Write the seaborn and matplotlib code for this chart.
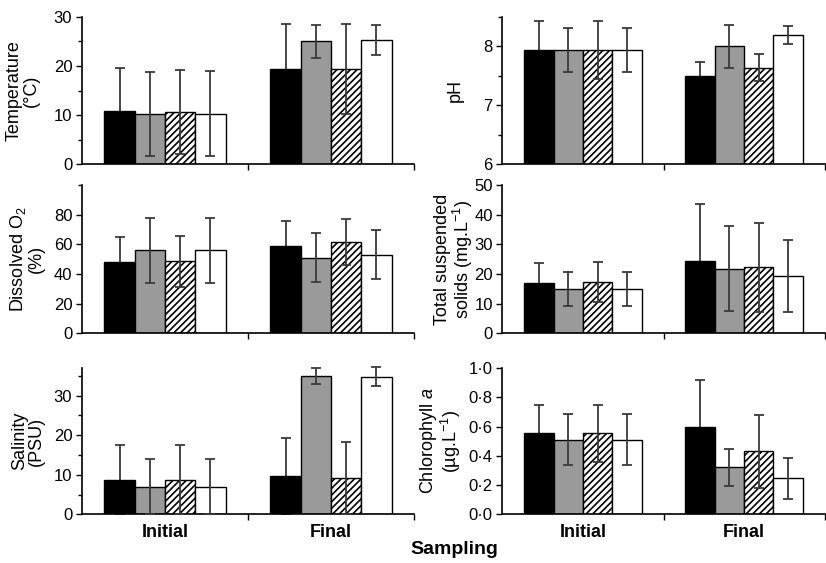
import numpy as np
import pandas as pd
import matplotlib
matplotlib.use("Agg")
import matplotlib.pyplot as plt
from matplotlib.ticker import FixedLocator, FuncFormatter
from matplotlib.container import BarContainer
import seaborn as sns

# ---------------- data (Initial: 4 treatments, then Final: 4 treatments) ----------------
sampling = ["Initial", "Final"]
treatments = ["T1", "T2", "T3", "T4"]

temperature_mean = [10.8, 10.2, 10.6, 10.3, 19.4, 25.0, 19.4, 25.3]
temperature_err = [8.7, 8.6, 8.6, 8.6, 9.1, 3.3, 9.1, 3.1]

ph_mean = [7.94, 7.94, 7.94, 7.94, 7.49, 8.00, 7.64, 8.19]
ph_err = [0.49, 0.38, 0.49, 0.38, 0.25, 0.37, 0.23, 0.15]

do_mean = [48.0, 56.0, 48.5, 56.0, 59.0, 51.0, 61.5, 53.0]
do_err = [17.0, 22.0, 17.0, 22.0, 17.0, 16.3, 15.5, 16.7]

tss_mean = [16.9, 15.0, 17.2, 15.0, 24.5, 21.8, 22.3, 19.3]
tss_err = [6.9, 5.8, 6.8, 5.8, 19.1, 14.4, 15.0, 12.0]

salinity_mean = [8.8, 7.0, 8.8, 7.0, 9.7, 35.0, 9.3, 34.8]
salinity_err = [8.6, 7.0, 8.6, 7.0, 9.7, 2.1, 9.1, 2.4]

chl_mean = [0.555, 0.51, 0.555, 0.51, 0.60, 0.32, 0.43, 0.245]
chl_err = [0.19, 0.175, 0.195, 0.175, 0.32, 0.125, 0.25, 0.14]

ylabels = {
    "temp": "Temperature\n(°C)",
    "ph": "pH",
    "do": "Dissolved O$_2$\n(%)",
    "tss": "Total suspended\nsolids (mg.L$^{-1}$)",
    "sal": "Salinity\n(PSU)",
    "chl": "Chlorophyll $a$\n(µg.L$^{-1}$)",
}

# ---------------- style ----------------
sns.set_style("ticks")
plt.rcParams["font.family"] = ["Liberation Sans", "DejaVu Sans"]
plt.rcParams["mathtext.fontset"] = "custom"
plt.rcParams["mathtext.rm"] = "Liberation Sans"
plt.rcParams["mathtext.it"] = "Liberation Sans:italic"
plt.rcParams["hatch.linewidth"] = 1.2
for key in ["text.color", "axes.labelcolor", "xtick.color", "ytick.color",
            "xtick.labelcolor", "ytick.labelcolor"]:
    plt.rcParams[key] = "black"

bar_colors = ["#000000", "#9a9a9a", "#ffffff", "#ffffff"]
hatches = ["", "", "/////", ""]
err_zorder = [1, 3, 3, 3]   # error bar of the black bar sits behind it
err_color = "#3a3a3a"

fig = plt.figure(figsize=(8.26, 5.63), dpi=100)
W, H = 826.0, 563.0
colL = (82 / W, 332 / W)
colR = (502.5 / W, 322 / W)
rows = [((H - 164) / H, 147 / H), ((H - 333.3) / H, 148.3 / H), ((H - 514.3) / H, 146.3 / H)]


def make_panel(col, row, means, errs, ylim, majors, minors, label, label_x,
               bottom=False, fmt=None):
    ax = fig.add_axes([col[0], row[0], col[1], row[1]])
    df = pd.DataFrame({
        "Sampling": np.repeat(sampling, len(treatments)),
        "Treatment": treatments * len(sampling),
        "value": means,
        "err": errs,
    })
    sns.barplot(data=df, x="Sampling", y="value", hue="Treatment",
                order=sampling, hue_order=treatments, palette=bar_colors,
                width=0.73, gap=0, errorbar=None, edgecolor="black",
                linewidth=1.0, legend=False, ax=ax, zorder=2)
    # hatches and error bars positioned from the drawn bars
    bar_containers = [c for c in ax.containers if isinstance(c, BarContainer)]
    for k, cont in enumerate(bar_containers):
        sub = df[df["Treatment"] == treatments[k]].set_index("Sampling").loc[sampling]
        xs, ys = [], []
        for bar in cont:
            bar.set_hatch(hatches[k])
            xs.append(bar.get_x() + bar.get_width() / 2)
            ys.append(bar.get_height())
        ax.errorbar(xs, ys, yerr=sub["err"].values, fmt="none", ecolor=err_color,
                    elinewidth=1.3, capsize=3.5, capthick=1.3,
                    zorder=err_zorder[k], clip_on=False)
    ax.set_xlim(-0.5, 1.5)
    ax.set_ylim(*ylim)
    ax.yaxis.set_major_locator(FixedLocator(majors))
    ax.yaxis.set_minor_locator(FixedLocator(minors))
    if fmt is not None:
        ax.yaxis.set_major_formatter(FuncFormatter(fmt))
    ax.tick_params(axis="y", which="major", direction="out", length=4, width=1.0,
                   labelsize=12, pad=3, color="black")
    ax.tick_params(axis="y", which="minor", direction="out", length=3, width=1.0,
                   color="black")
    ax.xaxis.set_minor_locator(FixedLocator([0.5, 1.5]))
    ax.tick_params(axis="x", which="minor", direction="out", length=4, width=1.0,
                   color="black")
    ax.tick_params(axis="x", which="major", length=0, pad=7)
    if bottom:
        ax.set_xticks([0, 1])
        ax.set_xticklabels(sampling, fontsize=13, fontweight="bold")
    else:
        ax.set_xticklabels([])
    ax.set_xlabel("")
    ax.set_ylabel(label, fontsize=13, linespacing=1.0)
    ax.yaxis.set_label_coords(label_x, 0.5)
    for s in ["top", "right"]:
        ax.spines[s].set_visible(False)
    for s in ["left", "bottom"]:
        ax.spines[s].set_linewidth(1.2)
        ax.spines[s].set_color("black")
    return ax


make_panel(colL, rows[0], temperature_mean, temperature_err, (0, 30),
           [0, 10, 20, 30], [5, 15, 25], ylabels["temp"], -0.127)
make_panel(colR, rows[0], ph_mean, ph_err, (6, 8.5),
           [6, 7, 8], [6.5, 7.5, 8.5], ylabels["ph"], -0.121)
make_panel(colL, rows[1], do_mean, do_err, (0, 100),
           [0, 20, 40, 60, 80], [100], ylabels["do"], -0.111)
make_panel(colR, rows[1], tss_mean, tss_err, (0, 50),
           [0, 10, 20, 30, 40, 50], [], ylabels["tss"], -0.086)
make_panel(colL, rows[2], salinity_mean, salinity_err, (0, 37),
           [0, 10, 20, 30], [5, 15, 25, 35], ylabels["sal"], -0.111, bottom=True)
make_panel(colR, rows[2], chl_mean, chl_err, (0, 1.0),
           [0, 0.2, 0.4, 0.6, 0.8, 1.0], [], ylabels["chl"], -0.123, bottom=True,
           fmt=lambda v, _: f"{v:.1f}".replace(".", "·"))

fig.text(454 / W, 1 - 550 / H, "Sampling", ha="center", va="center",
         fontsize=14, fontweight="bold")

fig.savefig("out.png", dpi=100)
